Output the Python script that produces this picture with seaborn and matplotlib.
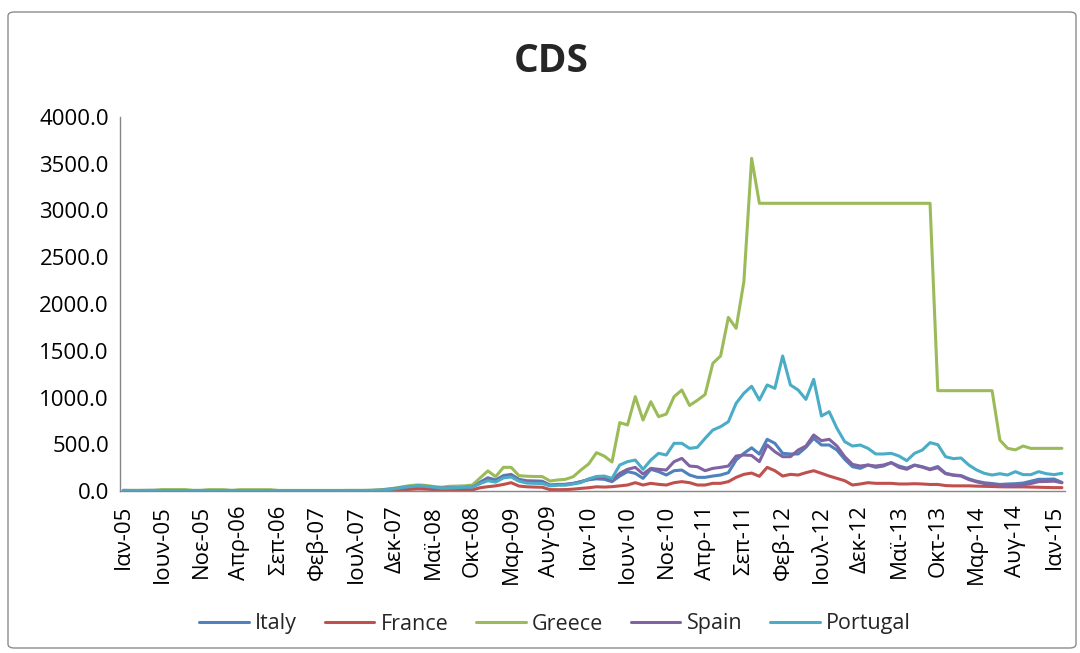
import numpy as np
import pandas as pd
import matplotlib
matplotlib.use("Agg")
import matplotlib.pyplot as plt
from matplotlib.patches import FancyBboxPatch
import seaborn as sns

# Monthly CDS spreads, Jan 2005 - Feb 2015
countries = ["Italy", "France", "Greece", "Spain", "Portugal"]

italy = [
    7, 6, 6, 7, 8, 8, 7, 7, 6, 6, 6, 7,
    7, 6, 6, 6, 6, 6, 6, 5, 5, 5, 5, 5,
    5, 5, 5, 5, 5, 6, 6, 6, 7, 10, 18, 28,
    38, 48, 55, 50, 40, 32, 35, 38, 42, 45, 95, 142,
    118, 165, 178, 125, 110, 108, 105, 64, 71, 71, 82, 100,
    120, 130, 125, 100, 160, 207, 189, 135, 232, 207, 171, 217,
    224, 171, 146, 146, 160, 171, 196, 331, 403, 462, 395, 553,
    510, 403, 396, 396, 467, 563, 492, 492, 438, 339, 260, 242,
    278, 253, 267, 303, 267, 245, 278, 260, 235, 262, 190, 172,
    165, 130, 105, 88, 80, 70, 75, 78, 85, 105, 125, 125,
    128, 92,
]

france = [
    3, 3, 3, 3, 3, 3, 3, 3, 3, 3, 3, 3,
    3, 3, 3, 3, 3, 3, 3, 3, 2, 2, 2, 2,
    2, 2, 2, 2, 2, 2, 2, 2, 2, 3, 5, 8,
    12, 18, 22, 20, 15, 10, 8, 9, 10, 12, 35, 46,
    55, 70, 89, 53, 45, 42, 40, 15, 14, 15, 20, 28,
    35, 45, 42, 46, 55, 64, 89, 64, 82, 71, 64, 89,
    100, 89, 64, 64, 82, 82, 100, 146, 178, 192, 157, 253,
    217, 160, 178, 171, 196, 217, 189, 160, 135, 110, 64, 75,
    89, 82, 82, 82, 75, 75, 78, 75, 70, 70, 58, 55,
    55, 55, 52, 50, 48, 45, 44, 44, 44, 42, 40, 38,
    36, 36,
]

greece = [
    6, 6, 6, 6, 6, 15, 15, 15, 15, 6, 6, 14,
    14, 14, 6, 14, 14, 14, 14, 14, 6, 6, 6, 6,
    6, 6, 6, 6, 6, 6, 6, 6, 8, 12, 20, 30,
    45, 58, 65, 60, 48, 40, 50, 53, 55, 64, 140, 215,
    153, 253, 253, 164, 158, 155, 155, 107, 118, 125, 153, 225,
    290, 410, 374, 310, 731, 706, 1009, 759, 955, 795, 823, 1009,
    1080, 915, 970, 1032, 1366, 1444, 1857, 1740, 2239, 3558, 3077, 3077,
    3077, 3077, 3077, 3077, 3077, 3077, 3077, 3077, 3077, 3077, 3077, 3077,
    3077, 3077, 3077, 3077, 3077, 3077, 3077, 3077, 3077, 1073, 1073, 1073,
    1073, 1073, 1073, 1073, 1073, 545, 456, 440, 481, 456, 456, 456,
    456, 456,
]

spain = [
    3, 3, 3, 3, 3, 3, 3, 3, 3, 3, 3, 3,
    3, 3, 3, 3, 3, 3, 3, 3, 3, 3, 3, 3,
    3, 3, 3, 3, 3, 3, 3, 3, 4, 6, 12, 24,
    35, 45, 52, 48, 38, 30, 33, 36, 40, 42, 85, 125,
    105, 155, 165, 118, 100, 100, 95, 60, 68, 70, 80, 100,
    125, 140, 146, 118, 189, 232, 253, 182, 242, 232, 224, 314,
    349, 267, 260, 217, 242, 253, 267, 374, 385, 380, 314, 492,
    420, 367, 367, 438, 481, 599, 538, 553, 481, 367, 285, 267,
    278, 267, 278, 303, 253, 232, 275, 255, 228, 250, 185, 168,
    160, 122, 98, 80, 72, 62, 58, 60, 65, 80, 100, 102,
    105, 88,
]

portugal = [
    4, 4, 4, 4, 4, 4, 4, 4, 4, 4, 4, 4,
    4, 4, 4, 4, 4, 4, 4, 4, 4, 4, 4, 4,
    4, 4, 4, 4, 4, 4, 4, 4, 5, 8, 14, 24,
    38, 48, 55, 50, 42, 30, 32, 36, 40, 42, 80, 110,
    95, 140, 150, 105, 85, 82, 80, 55, 62, 62, 75, 90,
    130, 155, 160, 135, 278, 314, 331, 232, 331, 403, 385, 510,
    510, 456, 467, 563, 652, 688, 741, 938, 1045, 1120, 973, 1134,
    1098, 1444, 1134, 1080, 980, 1194, 802, 848, 670, 528, 481, 492,
    456, 396, 396, 403, 374, 324, 403, 438, 517, 496, 367, 346,
    353, 278, 225, 189, 171, 185, 171, 207, 175, 175, 207, 185,
    175, 189,
]

tick_labels = [
    "Ιαν-05", "Ιουν-05", "Νοε-05", "Απρ-06", "Σεπ-06", "Φεβ-07", "Ιουλ-07",
    "Δεκ-07", "Μαϊ-08", "Οκτ-08", "Μαρ-09", "Αυγ-09", "Ιαν-10", "Ιουν-10",
    "Νοε-10", "Απρ-11", "Σεπ-11", "Φεβ-12", "Ιουλ-12", "Δεκ-12", "Μαϊ-13",
    "Οκτ-13", "Μαρ-14", "Αυγ-14", "Ιαν-15",
]
label_step = 5

colors = {
    "Italy": "#4F81BD",
    "France": "#C0504D",
    "Greece": "#9BBB59",
    "Spain": "#8064A2",
    "Portugal": "#4BACC6",
}

series = dict(zip(countries, [italy, france, greece, spain, portugal]))
frames = []
for name, vals in series.items():
    frames.append(pd.DataFrame({"month": np.arange(len(vals)),
                                "cds": vals, "country": name}))
df = pd.concat(frames, ignore_index=True)

sns.set_style("white")
plt.rcParams["font.family"] = ["Open Sans", "DejaVu Sans"]

W, H = 1080, 653
fig = plt.figure(figsize=(W / 100, H / 100), dpi=100)

# chart frame
frame = FancyBboxPatch((8 / W, 5 / H), 1068 / W, 636 / H,
                       boxstyle="round,pad=0,rounding_size=0.006",
                       transform=fig.transFigure, fill=False,
                       edgecolor="#8c8c8c", linewidth=1.0)
fig.patches.append(frame)

ax = fig.add_axes([120 / W, 1 - 491 / H, 945 / W, 374 / H])
sns.lineplot(data=df, x="month", y="cds", hue="country",
             hue_order=countries, palette=colors, linewidth=2.2,
             ax=ax, legend=False, sort=False)

ax.set_xlim(-0.43, 121.4)
ax.set_ylim(0, 4000)
ax.set_yticks(np.arange(0, 4001, 500))
ax.set_yticklabels([f"{v:.1f}" for v in np.arange(0, 4001, 500)])
ax.set_xticks(np.arange(0, len(tick_labels) * label_step, label_step))
ax.set_xticklabels(tick_labels, rotation=90)
ax.tick_params(axis="both", length=0, labelsize=16, colors="black")
ax.tick_params(axis="y", pad=8)
ax.tick_params(axis="x", pad=10)
ax.set_xlabel("")
ax.set_ylabel("")
for side in ["top", "right"]:
    ax.spines[side].set_visible(False)
for side in ["left", "bottom"]:
    ax.spines[side].set_color("#868686")
    ax.spines[side].set_linewidth(1.0)
ax.grid(False)

fig.text(551 / W, 1 - 62 / H, "CDS", ha="center", va="center",
         fontsize=28, fontweight="bold")

handles = ax.get_lines()[:len(countries)]
leg = fig.legend(handles, countries, loc="center",
                 bbox_to_anchor=(555 / W, 1 - 624 / H), ncol=5,
                 frameon=False, fontsize=15.5, handlelength=2.3,
                 handletextpad=0.28, columnspacing=1.3)

fig.savefig("out.png", dpi=100)
